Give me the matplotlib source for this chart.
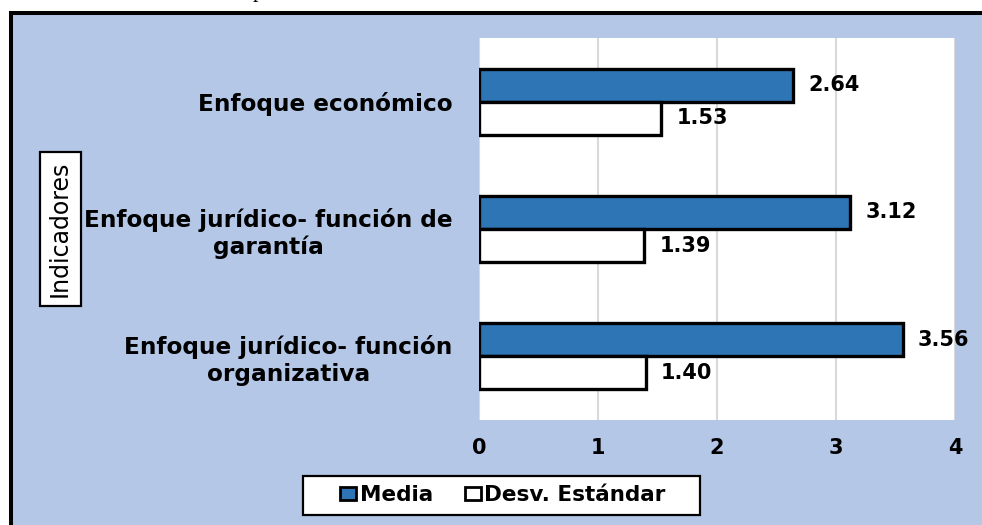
import numpy as np
import matplotlib.pyplot as plt
from matplotlib.patches import Rectangle

# Data
categorias = ["Enfoque económico",
              "Enfoque jurídico- función de\ngarantía",
              "Enfoque jurídico- función\norganizativa"]
media = [2.64, 3.12, 3.56]
desv = [1.53, 1.39, 1.40]
ticks_x = [0, 1, 2, 3, 4]

AZUL = "#2E75B6"
FONDO = "#B4C7E7"

plt.rcParams['font.family'] = ['DejaVu Sans']

fig = plt.figure(figsize=(9.82, 5.25), dpi=100, facecolor="white")

# light blue chart area with black frame (cropped on right / bottom)
marco = Rectangle((11 / 982, -0.2), 1.2, 1.2 - 13 / 525, transform=fig.transFigure,
                  facecolor=FONDO, edgecolor="black", linewidth=2.9, zorder=-1)
fig.patches.append(marco)

# fragment of the caption text above the frame
fig.text(253 / 982, 1 + 3 / 525, "p", family="Liberation Serif", fontsize=16,
         va="baseline", ha="left")

ax = fig.add_axes([479 / 982, 1 - 420 / 525, (955 - 479) / 982, (420 - 38) / 525])
ax.set_facecolor("white")

y = np.arange(len(categorias))
h = 0.26
b1 = ax.barh(y - h / 2, media, height=h, color=AZUL, edgecolor="black",
             linewidth=2.4, label="Media", zorder=3)
b2 = ax.barh(y + h / 2, desv, height=h, color="white", edgecolor="black",
             linewidth=2.4, label="Desv. Estándar", zorder=3)

ax.bar_label(b1, labels=[f"{v:.2f}" for v in media], padding=11,
             fontsize=15, fontweight="bold")
ax.bar_label(b2, labels=[f"{v:.2f}" for v in desv], padding=11,
             fontsize=15, fontweight="bold")

ax.set_xlim(0, 4)
ax.set_ylim(2.5, -0.5)
ax.set_xticks(ticks_x)
ax.set_xticklabels([str(t) for t in ticks_x], fontsize=15, fontweight="bold")
ax.set_yticks(y)
ax.set_yticklabels(categorias, fontsize=16.7, fontweight="bold",
                   multialignment="center", linespacing=1.2)
ax.tick_params(axis="x", length=0, pad=13)
ax.tick_params(axis="y", length=0, pad=19)

ax.grid(axis="x", color="#D9D9D9", linewidth=1.5, zorder=0)
for s in ax.spines.values():
    s.set_visible(False)

# boxed vertical title
fig.text(60 / 982, 1 - 229 / 525, "Indicadores", rotation=90, fontsize=17,
         ha="center", va="center",
         bbox=dict(boxstyle="square,pad=0.36", facecolor="white",
                   edgecolor="black", linewidth=1.6))

# legend box
caja = Rectangle((303 / 982, 1 - 515 / 525), 397 / 982, 39 / 525,
                 transform=fig.transFigure, facecolor="white",
                 edgecolor="black", linewidth=1.6, zorder=1)
fig.patches.append(caja)

leg = fig.legend(handles=[b1, b2], loc="center",
                 bbox_to_anchor=(503 / 982, 1 - 495 / 525), ncol=2,
                 frameon=False, prop={"size": 15.5, "weight": "bold"},
                 handlelength=0.75, handleheight=0.55, handletextpad=0.15,
                 columnspacing=1.5, borderpad=0.3)
leg.set_zorder(2)
for p in leg.get_patches():
    p.set_linewidth(2.0)

fig.savefig("out.png", dpi=100, facecolor="white")
